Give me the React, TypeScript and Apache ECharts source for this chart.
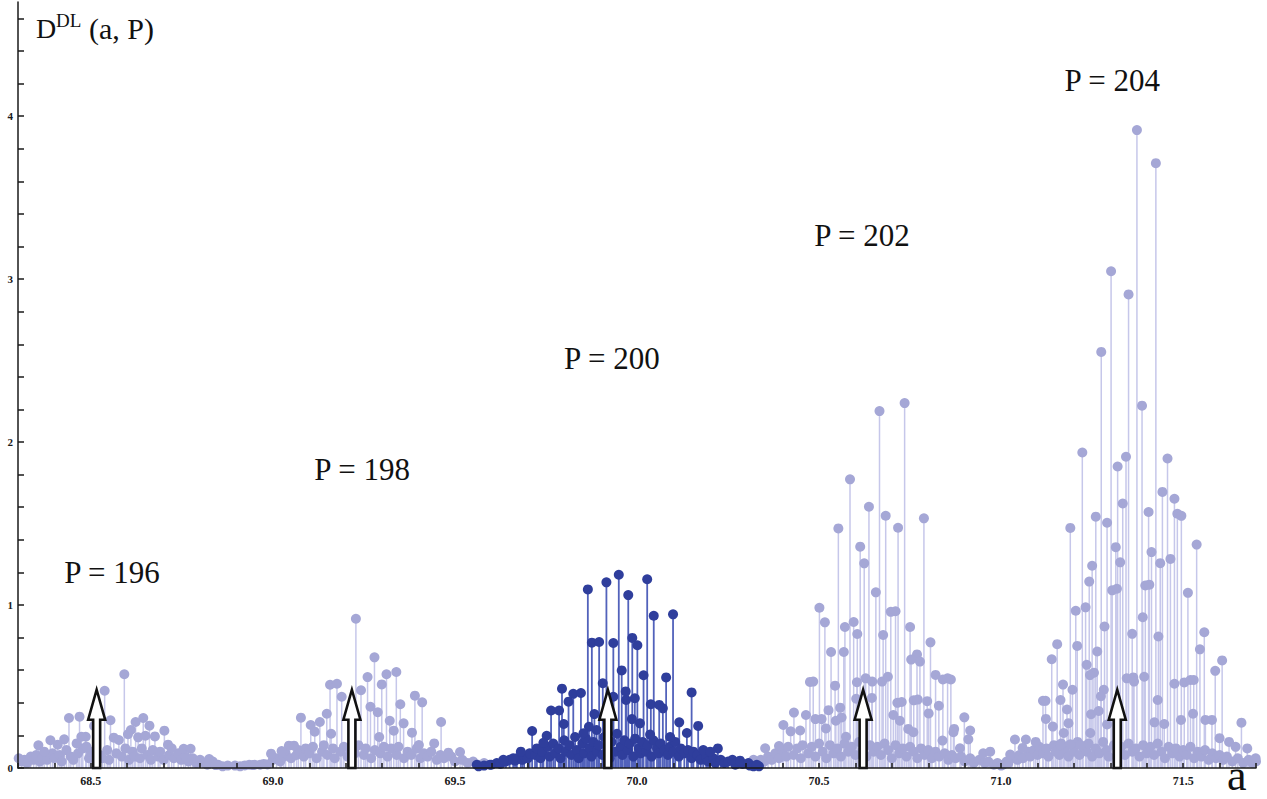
import React, { useEffect, useRef } from "react";
import * as echarts from "echarts";

// ---- axis ticks / labels ----
const xTickValues = [68.3, 68.4, 68.5, 68.6, 68.7, 68.8, 68.9, 69.0, 69.1, 69.2, 69.3, 69.4, 69.5, 69.6, 69.7, 69.8, 69.9, 70.0, 70.1, 70.2, 70.3, 70.4, 70.5, 70.6, 70.7, 70.8, 70.9, 71.0, 71.1, 71.2, 71.3, 71.4, 71.5, 71.6, 71.7];
const xLabelValues = [68.5, 69.0, 69.5, 70.0, 70.5, 71.0, 71.5];
const yTickValues = [0, 0.2, 0.4, 0.6, 0.8, 1, 1.2, 1.4, 1.6, 1.8, 2, 2.2, 2.4, 2.6, 2.8, 3, 3.2, 3.4, 3.6, 3.8, 4, 4.2, 4.4, 4.6];
const yLabelValues = [0, 1, 2, 3, 4];

// ---- P = 196 ----
const p196Peaks = [
  [68.592, 0.575], [68.538, 0.474], [68.44, 0.307], [68.469, 0.315], [68.554, 0.293], [68.644, 0.307],
  [68.623, 0.282], [68.661, 0.26], [68.702, 0.229], [68.61, 0.233], [68.602, 0.207], [68.509, 0.258],
  [68.486, 0.192], [68.474, 0.192], [68.563, 0.186], [68.577, 0.172], [68.63, 0.188], [68.65, 0.198],
  [68.676, 0.194], [68.389, 0.17], [68.427, 0.176], [68.409, 0.143], [68.356, 0.139], [68.461, 0.151],
  [68.488, 0.131], [68.712, 0.143], [68.722, 0.121], [68.755, 0.118], [68.774, 0.118], [68.825, 0.055],
  [68.372, 0.1], [68.843, 0.018], [68.876, 0.015], [68.896, 0.015], [68.923, 0.016], [68.945, 0.018]
];
const p196Base = [
  [68.302, 0.06], [68.31, 0.04], [68.318, 0.05], [68.325, 0.03], [68.335, 0.07], [68.343, 0.05], [68.35, 0.08],
  [68.36, 0.04], [68.366, 0.06], [68.38, 0.05], [68.395, 0.09], [68.4, 0.06], [68.415, 0.08], [68.42, 0.04],
  [68.433, 0.11], [68.445, 0.07], [68.452, 0.05], [68.465, 0.09], [68.478, 0.12], [68.495, 0.06], [68.5, 0.1],
  [68.515, 0.04], [68.525, 0.08], [68.532, 0.06], [68.545, 0.11], [68.55, 0.05], [68.57, 0.09], [68.585, 0.07],
  [68.595, 0.12], [68.605, 0.05], [68.615, 0.1], [68.62, 0.07], [68.635, 0.06], [68.64, 0.12], [68.655, 0.08],
  [68.665, 0.05], [68.67, 0.11], [68.685, 0.07], [68.69, 0.1], [68.7, 0.05], [68.715, 0.08], [68.728, 0.06],
  [68.74, 0.09], [68.748, 0.05], [68.76, 0.07], [68.768, 0.04], [68.78, 0.06], [68.79, 0.03], [68.8, 0.05],
  [68.812, 0.03], [68.82, 0.02], [68.835, 0.04], [68.85, 0.02], [68.862, 0.01], [68.91, 0.01], [68.935, 0.02]
];

// ---- P = 198 ----
const p198Peaks = [
  [69.228, 0.916], [69.279, 0.679], [69.339, 0.589], [69.312, 0.575], [69.26, 0.558], [69.299, 0.513],
  [69.157, 0.511], [69.176, 0.517], [69.242, 0.477], [69.189, 0.437], [69.39, 0.444], [69.41, 0.403],
  [69.35, 0.391], [69.268, 0.376], [69.288, 0.342], [69.148, 0.333], [69.077, 0.309], [69.129, 0.282],
  [69.104, 0.264], [69.321, 0.29], [69.359, 0.274], [69.462, 0.282], [69.115, 0.223], [69.16, 0.21],
  [69.332, 0.229], [69.382, 0.217], [69.292, 0.19], [69.401, 0.141], [69.443, 0.151], [69.044, 0.137],
  [69.058, 0.137], [68.995, 0.088], [69.024, 0.104], [69.482, 0.094], [69.514, 0.098], [68.965, 0.02],
  [68.985, 0.022]
];
const p198Base = [
  [68.95, 0.02], [68.975, 0.025], [69.0, 0.05], [69.01, 0.06], [69.02, 0.04], [69.03, 0.07], [69.035, 0.09],
  [69.05, 0.06], [69.065, 0.08], [69.07, 0.11], [69.085, 0.07], [69.09, 0.12], [69.1, 0.09], [69.11, 0.13],
  [69.12, 0.06], [69.135, 0.1], [69.14, 0.14], [69.15, 0.08], [69.165, 0.12], [69.17, 0.06], [69.185, 0.1],
  [69.195, 0.13], [69.205, 0.07], [69.212, 0.11], [69.225, 0.09], [69.235, 0.14], [69.25, 0.08], [69.255, 0.12],
  [69.27, 0.06], [69.28, 0.11], [69.295, 0.09], [69.305, 0.13], [69.315, 0.07], [69.325, 0.12], [69.34, 0.08],
  [69.345, 0.13], [69.36, 0.06], [69.37, 0.1], [69.38, 0.08], [69.395, 0.12], [69.405, 0.06], [69.415, 0.09],
  [69.425, 0.07], [69.435, 0.1], [69.45, 0.05], [69.46, 0.08], [69.47, 0.06], [69.49, 0.07], [69.5, 0.04],
  [69.52, 0.05], [69.535, 0.03], [69.55, 0.04], [69.565, 0.02], [69.58, 0.03]
];

// ---- P = 200 (highlighted) ----
const p200Peaks = [
  [69.95, 1.186], [69.916, 1.139], [69.865, 1.096], [70.028, 1.158], [69.976, 1.061], [70.046, 0.934],
  [70.099, 0.943], [69.876, 0.769], [69.896, 0.773], [69.935, 0.767], [69.987, 0.798], [70.001, 0.753],
  [69.958, 0.599], [70.018, 0.569], [70.08, 0.556], [69.906, 0.52], [70.15, 0.464], [69.794, 0.487],
  [69.825, 0.455], [69.846, 0.46], [69.812, 0.407], [69.969, 0.47], [69.97, 0.417], [69.994, 0.428],
  [70.038, 0.391], [70.061, 0.387], [70.071, 0.366], [69.935, 0.437], [69.764, 0.353], [69.786, 0.353],
  [69.883, 0.331], [69.799, 0.27], [69.712, 0.227], [69.752, 0.198], [70.116, 0.28], [70.168, 0.258],
  [70.008, 0.274], [69.986, 0.3], [69.868, 0.253], [69.681, 0.1], [69.743, 0.155], [69.853, 0.213],
  [69.889, 0.233], [70.036, 0.205], [70.091, 0.19], [70.137, 0.215], [70.222, 0.12], [70.182, 0.11],
  [70.201, 0.1], [70.262, 0.05], [70.283, 0.045], [70.306, 0.03], [70.329, 0.02], [69.56, 0.02],
  [69.596, 0.02], [69.633, 0.05], [69.66, 0.06]
];
const p200Base = [
  [69.565, 0.01], [69.58, 0.015], [69.6, 0.02], [69.615, 0.03], [69.625, 0.025], [69.64, 0.04], [69.65, 0.05],
  [69.665, 0.045], [69.67, 0.06], [69.685, 0.05], [69.69, 0.07], [69.7, 0.06], [69.705, 0.09], [69.72, 0.08],
  [69.725, 0.12], [69.735, 0.06], [69.74, 0.1], [69.755, 0.13], [69.76, 0.07], [69.77, 0.15], [69.775, 0.09],
  [69.785, 0.12], [69.79, 0.06], [69.8, 0.17], [69.805, 0.1], [69.815, 0.14], [69.82, 0.08], [69.83, 0.19],
  [69.835, 0.11], [69.84, 0.06], [69.85, 0.15], [69.855, 0.09], [69.86, 0.18], [69.87, 0.12], [69.875, 0.07],
  [69.88, 0.16], [69.89, 0.1], [69.895, 0.14], [69.905, 0.08], [69.91, 0.19], [69.92, 0.12], [69.925, 0.06],
  [69.93, 0.16], [69.94, 0.1], [69.945, 0.21], [69.955, 0.13], [69.96, 0.08], [69.965, 0.17], [69.975, 0.11],
  [69.98, 0.15], [69.99, 0.07], [69.995, 0.18], [70.005, 0.12], [70.01, 0.09], [70.015, 0.16], [70.025, 0.1],
  [70.03, 0.14], [70.04, 0.07], [70.045, 0.17], [70.055, 0.12], [70.06, 0.09], [70.065, 0.15], [70.075, 0.11],
  [70.085, 0.08], [70.09, 0.13], [70.1, 0.1], [70.105, 0.16], [70.115, 0.07], [70.12, 0.12], [70.13, 0.09],
  [70.14, 0.11], [70.15, 0.06], [70.155, 0.1], [70.165, 0.08], [70.175, 0.05], [70.19, 0.07], [70.195, 0.04],
  [70.21, 0.06], [70.215, 0.03], [70.23, 0.05], [70.24, 0.03], [70.25, 0.04], [70.27, 0.02], [70.29, 0.025],
  [70.31, 0.015], [70.32, 0.01], [70.335, 0.01]
];

// ---- P = 202 ----
const p202Peaks = [
  [70.735, 2.239], [70.666, 2.19], [70.585, 1.771], [70.637, 1.603], [70.683, 1.548], [70.788, 1.532],
  [70.553, 1.47], [70.717, 1.474], [70.613, 1.358], [70.624, 1.256], [70.656, 1.078], [70.501, 0.983],
  [70.516, 0.894], [70.595, 0.896], [70.571, 0.865], [70.697, 0.958], [70.71, 0.962], [70.75, 0.865],
  [70.806, 0.771], [70.605, 0.822], [70.676, 0.816], [70.533, 0.712], [70.568, 0.712], [70.769, 0.697],
  [70.753, 0.665], [70.777, 0.653], [70.82, 0.571], [70.84, 0.543], [70.853, 0.55], [70.862, 0.543],
  [70.475, 0.528], [70.484, 0.53], [70.544, 0.505], [70.604, 0.526], [70.628, 0.55], [70.646, 0.53],
  [70.673, 0.53], [70.689, 0.56], [70.602, 0.425], [70.645, 0.43], [70.715, 0.4], [70.727, 0.405],
  [70.76, 0.415], [70.771, 0.42], [70.797, 0.41], [70.829, 0.382], [70.801, 0.335], [70.899, 0.311],
  [70.431, 0.34], [70.464, 0.325], [70.526, 0.355], [70.558, 0.37], [70.49, 0.3], [70.507, 0.3],
  [70.546, 0.29], [70.562, 0.31], [70.402, 0.264], [70.422, 0.225], [70.448, 0.23], [70.519, 0.243],
  [70.574, 0.192], [70.704, 0.325], [70.722, 0.29], [70.745, 0.24], [70.759, 0.22], [70.871, 0.24],
  [70.869, 0.22], [70.915, 0.23], [70.91, 0.176], [70.839, 0.168], [70.352, 0.121], [70.39, 0.135],
  [70.887, 0.121], [70.951, 0.09], [70.97, 0.1], [70.32, 0.05]
];
const p202Base = [
  [70.305, 0.02], [70.315, 0.03], [70.33, 0.025], [70.34, 0.05], [70.35, 0.04], [70.36, 0.07], [70.37, 0.05],
  [70.38, 0.09], [70.39, 0.06], [70.4, 0.11], [70.41, 0.07], [70.415, 0.13], [70.43, 0.08], [70.44, 0.12],
  [70.45, 0.06], [70.455, 0.14], [70.47, 0.09], [70.48, 0.13], [70.49, 0.07], [70.5, 0.15], [70.51, 0.1],
  [70.52, 0.06], [70.53, 0.14], [70.54, 0.09], [70.55, 0.12], [70.56, 0.07], [70.57, 0.15], [70.58, 0.1],
  [70.59, 0.13], [70.6, 0.08], [70.61, 0.16], [70.62, 0.11], [70.63, 0.07], [70.64, 0.14], [70.65, 0.1],
  [70.66, 0.13], [70.67, 0.08], [70.68, 0.15], [70.69, 0.11], [70.7, 0.06], [70.71, 0.14], [70.72, 0.09],
  [70.73, 0.12], [70.74, 0.07], [70.75, 0.13], [70.76, 0.1], [70.77, 0.06], [70.78, 0.12], [70.79, 0.08],
  [70.8, 0.11], [70.81, 0.06], [70.82, 0.1], [70.83, 0.07], [70.845, 0.09], [70.855, 0.05], [70.865, 0.08],
  [70.875, 0.06], [70.89, 0.07], [70.9, 0.04], [70.915, 0.06], [70.925, 0.03], [70.94, 0.05], [70.955, 0.03],
  [70.965, 0.04], [70.98, 0.02], [70.99, 0.03], [71.0, 0.015]
];

// ---- P = 204 ----
const p204Peaks = [
  [71.302, 3.048], [71.35, 2.906], [71.275, 2.553], [71.223, 1.936], [71.343, 1.91], [71.32, 1.85],
  [71.334, 1.623], [71.26, 1.542], [71.291, 1.505], [71.19, 1.473], [71.315, 1.355], [71.327, 1.262],
  [71.25, 1.241], [71.242, 1.144], [71.305, 1.09], [71.318, 1.1], [71.232, 0.986], [71.205, 0.965],
  [71.284, 0.868], [71.154, 0.76], [71.209, 0.749], [71.139, 0.667], [71.264, 0.715], [71.235, 0.633],
  [71.255, 0.585], [71.244, 0.57], [71.17, 0.512], [71.196, 0.48], [71.163, 0.417], [71.115, 0.412],
  [71.122, 0.412], [71.282, 0.48], [71.274, 0.44], [71.181, 0.359], [71.123, 0.301], [71.142, 0.254],
  [71.185, 0.275], [71.247, 0.33], [71.268, 0.35], [71.291, 0.267], [71.172, 0.215], [71.245, 0.215],
  [71.038, 0.175], [71.068, 0.175], [71.095, 0.16], [71.059, 0.123], [71.025, 0.083], [71.163, 0.14],
  [71.19, 0.145], [71.218, 0.14],
  [71.373, 3.914], [71.425, 3.711], [71.387, 2.223], [71.457, 1.899], [71.443, 1.694], [71.476, 1.652],
  [71.484, 1.56], [71.495, 1.547], [71.405, 1.571], [71.537, 1.371], [71.413, 1.325], [71.465, 1.283],
  [71.437, 1.257], [71.396, 1.12], [71.407, 1.125], [71.513, 1.075], [71.389, 0.925], [71.36, 0.823],
  [71.558, 0.833], [71.432, 0.807], [71.546, 0.728], [71.607, 0.66], [71.588, 0.596], [71.345, 0.55],
  [71.363, 0.556], [71.393, 0.56], [71.365, 0.53], [71.476, 0.517], [71.503, 0.525], [71.52, 0.54],
  [71.529, 0.54], [71.43, 0.417], [71.527, 0.333], [71.561, 0.295], [71.579, 0.295], [71.66, 0.278],
  [71.421, 0.28], [71.448, 0.27], [71.494, 0.295], [71.6, 0.183], [71.626, 0.16], [71.644, 0.13],
  [71.676, 0.12], [71.699, 0.06]
];
const p204Base = [
  [71.005, 0.02], [71.015, 0.04], [71.02, 0.03], [71.03, 0.06], [71.045, 0.05], [71.05, 0.08], [71.06, 0.06],
  [71.075, 0.1], [71.08, 0.07], [71.09, 0.11], [71.1, 0.08], [71.105, 0.13], [71.115, 0.09], [71.125, 0.12],
  [71.13, 0.07], [71.145, 0.14], [71.15, 0.1], [71.16, 0.08], [71.165, 0.15], [71.175, 0.11], [71.185, 0.07],
  [71.195, 0.14], [71.2, 0.1], [71.21, 0.16], [71.215, 0.08], [71.225, 0.13], [71.235, 0.1], [71.24, 0.15],
  [71.25, 0.07], [71.26, 0.12], [71.27, 0.09], [71.28, 0.16], [71.29, 0.11], [71.295, 0.07], [71.31, 0.14],
  [71.32, 0.1], [71.33, 0.13], [71.34, 0.08], [71.35, 0.15], [71.36, 0.1], [71.37, 0.12], [71.38, 0.07],
  [71.39, 0.14], [71.4, 0.09], [71.41, 0.13], [71.42, 0.08], [71.43, 0.15], [71.44, 0.1], [71.45, 0.06],
  [71.46, 0.13], [71.47, 0.09], [71.48, 0.12], [71.49, 0.07], [71.5, 0.11], [71.51, 0.08], [71.52, 0.13],
  [71.53, 0.06], [71.54, 0.1], [71.55, 0.07], [71.56, 0.11], [71.57, 0.05], [71.58, 0.09], [71.59, 0.06],
  [71.6, 0.08], [71.61, 0.05], [71.62, 0.07], [71.635, 0.04], [71.65, 0.06], [71.665, 0.03], [71.68, 0.05],
  [71.69, 0.03], [71.7, 0.04]
];

// ---- annotations ----
const arrowPositions = [68.516, 69.217, 69.92, 70.621, 71.319];
const arrowTipValue = 0.48;
const peakNames = ["P = 196", "P = 198", "P = 200", "P = 202", "P = 204"];
const peakLabelA = [68.558, 69.245, 69.931, 70.618, 71.305];
const peakLabelD = [1.2, 1.83, 2.515, 3.27, 4.22];

const LIGHT_DOT = "#a5a7d6";
const LIGHT_STEM = "#c6c7ea";
const DARK_DOT = "#2f3e9c";
const DARK_STEM = "#5262bb";
const SERIF = "'Liberation Serif', 'DejaVu Serif', serif";

function stemRenderer(color: string, width: number) {
  return (params: any, api: any) => {
    const top = api.coord([api.value(0), api.value(1)]);
    const base = api.coord([api.value(0), 0]);
    return {
      type: "line",
      shape: { x1: top[0], y1: top[1], x2: base[0], y2: base[1] },
      style: { stroke: color, lineWidth: width },
    };
  };
}

export default function App() {
  const ref = useRef<HTMLDivElement>(null);

  useEffect(() => {
    if (!ref.current) return;
    const chart = echarts.init(ref.current, undefined, { renderer: "svg" });

    const light = [...p196Base, ...p196Peaks, ...p198Base, ...p198Peaks, ...p202Base, ...p202Peaks, ...p204Base, ...p204Peaks];
    const dark = [...p200Base, ...p200Peaks];
    const arrows = arrowPositions.map((a) => [a, arrowTipValue]);
    const labels = peakNames.map((n, i) => [peakLabelA[i], peakLabelD[i], n]);

    const axisColor = "#1a1a1a";
    const option: any = {
      animation: false,
      backgroundColor: "#ffffff",
      grid: { left: 18, right: 11, top: 2, bottom: 31, containLabel: false },
      xAxis: {
        type: "value",
        min: 68.3,
        max: 71.7,
        interval: 0.1,
        z: 10,
        splitLine: { show: false },
        axisLine: { show: true, onZero: false, lineStyle: { color: axisColor, width: 1.5 } },
        axisTick: { show: true, inside: true, length: 5, customValues: xTickValues, lineStyle: { color: axisColor, width: 1.5 } },
        axisLabel: {
          show: true,
          customValues: xLabelValues,
          formatter: (v: number) => v.toFixed(1),
          margin: 7,
          color: axisColor,
          fontFamily: SERIF,
          fontWeight: "bold",
          fontSize: 12,
        },
      },
      yAxis: {
        type: "value",
        min: 0,
        max: 4.7,
        interval: 0.2,
        z: 10,
        splitLine: { show: false },
        axisLine: { show: true, onZero: false, lineStyle: { color: axisColor, width: 1.5 } },
        axisTick: { show: true, inside: true, length: 6, customValues: yTickValues, lineStyle: { color: axisColor, width: 1.5 } },
        axisLabel: {
          show: true,
          customValues: yLabelValues,
          formatter: (v: number) => String(Math.round(v)),
          margin: 5,
          color: axisColor,
          fontFamily: SERIF,
          fontWeight: "bold",
          fontSize: 11,
        },
      },
      series: [
        {
          type: "custom",
          name: "light stems",
          data: light,
          encode: { x: 0, y: 1 },
          renderItem: stemRenderer(LIGHT_STEM, 1.5),
          silent: true,
        },
        {
          type: "scatter",
          name: "light points",
          data: light,
          symbol: "circle",
          symbolSize: 10,
          clip: true,
          itemStyle: { color: LIGHT_DOT, opacity: 1 },
          silent: true,
        },
        {
          type: "custom",
          name: "dark stems",
          data: dark,
          encode: { x: 0, y: 1 },
          renderItem: stemRenderer(DARK_STEM, 1.8),
          silent: true,
        },
        {
          type: "scatter",
          name: "dark points",
          data: dark,
          symbol: "circle",
          symbolSize: 10,
          clip: true,
          itemStyle: { color: DARK_DOT, opacity: 1 },
          silent: true,
        },
        {
          type: "custom",
          name: "arrows",
          data: arrows,
          encode: { x: 0, y: 1 },
          silent: true,
          z: 5,
          renderItem: (params: any, api: any) => {
            const tip = api.coord([api.value(0), api.value(1)]);
            const base = api.coord([api.value(0), 0]);
            const cx = tip[0];
            const ty = tip[1];
            const by = base[1];
            const hb = ty + 30;
            return {
              type: "polygon",
              shape: {
                points: [
                  [cx, ty],
                  [cx + 8.5, hb],
                  [cx + 3.5, hb],
                  [cx + 3.5, by],
                  [cx - 3.5, by],
                  [cx - 3.5, hb],
                  [cx - 8.5, hb],
                ],
              },
              style: { fill: "#ffffff", stroke: "#111111", lineWidth: 2.6, lineJoin: "miter" },
            };
          },
        },
        {
          type: "custom",
          name: "peak labels",
          data: labels,
          encode: { x: 0, y: 1 },
          silent: true,
          renderItem: (params: any, api: any) => {
            const p = api.coord([api.value(0), api.value(1)]);
            return {
              type: "text",
              x: p[0],
              y: p[1],
              style: {
                text: peakNames[params.dataIndex],
                fill: "#111",
                font: `31px ${SERIF}`,
                align: "center",
                verticalAlign: "middle",
              },
            };
          },
        },
      ],
      graphic: [
        { type: "text", left: 36, top: 14, style: { text: "D", fill: "#111", font: `28px ${SERIF}` } },
        { type: "text", left: 56, top: 11, style: { text: "DL", fill: "#111", font: `19px ${SERIF}` } },
        { type: "text", left: 89, top: 13, style: { text: "(a, P)", fill: "#111", font: `30px ${SERIF}` } },
        {
          type: "text",
          x: 1227,
          y: 797,
          style: { text: "a", fill: "#111", font: `44px ${SERIF}`, verticalAlign: "bottom", align: "left" },
        },
      ],
    };

    chart.setOption(option);
    return () => chart.dispose();
  }, []);

  return (
    <div
      ref={ref}
      style={{ position: "fixed", left: 0, top: 0, width: 1267, height: 799, background: "#fff" }}
    />
  );
}
